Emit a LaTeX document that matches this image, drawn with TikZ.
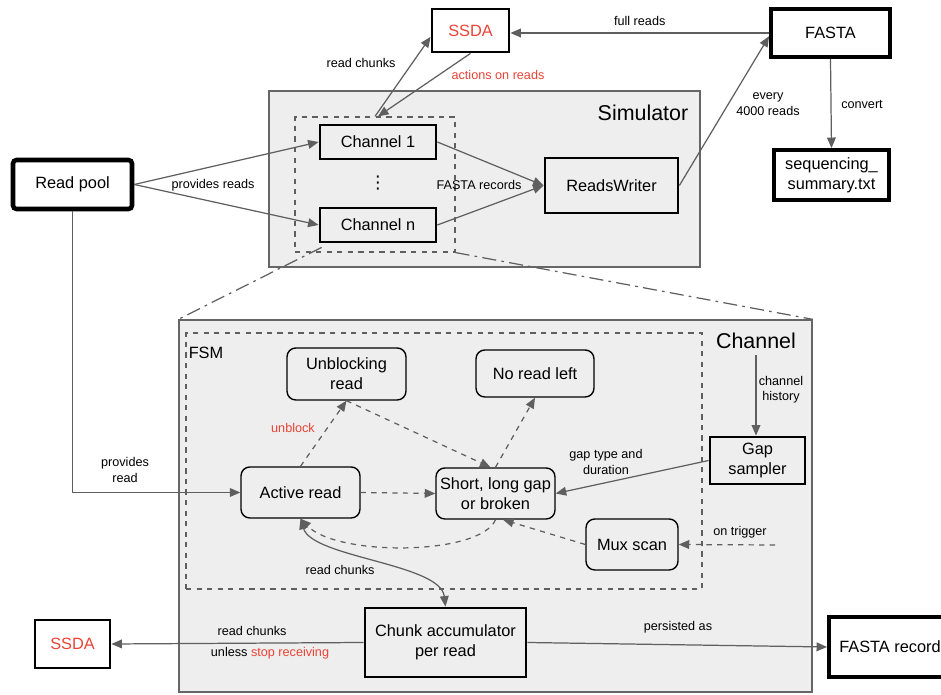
\documentclass[tikz,border=0pt]{standalone}
\usepackage{fontspec}
\setmainfont{Liberation Sans}
\newfontfamily\symfont{DejaVu Sans}
\usetikzlibrary{arrows.meta,calc,positioning}
\definecolor{linegray}{RGB}{95,95,95}
\definecolor{boxgray}{RGB}{238,238,238}
\definecolor{ssdared}{RGB}{234,67,53}

\begin{document}
\begin{tikzpicture}[x=0.02cm,y=-0.02cm,>={Triangle[length=6pt,width=5pt]},
  font=\fontsize{7.2}{8.8}\selectfont,
  blk/.style={draw,line width=1.6pt,align=center,inner sep=0pt,font=\fontsize{9.3}{11.2}\selectfont},
  state/.style={draw,line width=0.8pt,rounded corners=5pt,align=center,inner sep=0pt,font=\fontsize{9.3}{11.2}\selectfont},
  group/.style={draw=gray!80!black,fill=boxgray,line width=0.8pt,inner sep=0pt},
  dgroup/.style={draw=linegray,dashed,line width=0.7pt,inner sep=0pt},
  conn/.style={draw=linegray,line width=0.7pt,->},
  lbl/.style={align=center,inner sep=1pt}]
\useasboundingbox (0,0) rectangle (941,695);
% simulator and channel frames
\node[group,minimum width=8.62cm,minimum height=3.52cm] (sim) at (484.5,179) {};
\node[group,minimum width=12.66cm,minimum height=7.44cm] (chbox) at (495.5,506) {};
\node[dgroup,minimum width=3.2cm,minimum height=2.7cm] (chgroup) at (375,184.5) {};
\node[dgroup,minimum width=10.32cm,minimum height=5.12cm] (fsm) at (444,461) {};
\node[font=\fontsize{12.2}{14}\selectfont] (simtitle) at (643,113) {Simulator};
\node[font=\fontsize{12.2}{14}\selectfont] (chtitle) at (756,341) {Channel};
\node[font=\fontsize{9.3}{11}\selectfont] (fsmtitle) at (206,353) {FSM};
% outside blocks
\node[blk,text=ssdared,minimum width=1.54cm,minimum height=0.86cm] (ssda) at (470.5,30.5) {SSDA};
\node[blk,line width=2.2pt,minimum width=2.38cm,minimum height=0.96cm] (fasta) at (830.5,33) {FASTA};
\node[blk,line width=2.2pt,minimum width=2.3cm,minimum height=1.0cm] (summary) at (831.5,175) {sequencing\_\\summary.txt};
\node[blk,line width=2.6pt,rounded corners=2pt,minimum width=2.38cm,minimum height=0.98cm] (pool) at (72.5,184.5) {Read pool};
\node[blk,text=ssdared,minimum width=1.5cm,minimum height=0.96cm] (ssdab) at (72.5,644) {SSDA};
\node[blk,line width=2.2pt,minimum width=2.44cm,minimum height=1.2cm] (record) at (890,647) {FASTA record};
% simulator
\node[blk,minimum width=2.32cm,minimum height=0.68cm] (ch1) at (378,142) {Channel 1};
\node[blk,minimum width=2.32cm,minimum height=0.68cm] (chn) at (378,225) {Channel n};
\node[inner sep=0pt,font=\symfont\fontsize{10}{12}\selectfont] (dots) at (378,183) {⋮};
\node[blk,minimum width=2.66cm,minimum height=1.1cm] (rw) at (611.5,185.5) {ReadsWriter};
% channel
\node[state,minimum width=2.38cm,minimum height=1.04cm] (unblk) at (346.5,374) {Unblocking\\read};
\node[state,minimum width=2.36cm,minimum height=0.94cm] (noread) at (535,373.5) {No read left};
\node[state,minimum width=2.38cm,minimum height=1.02cm] (active) at (300.5,492.5) {Active read};
\node[state,minimum width=2.38cm,minimum height=1.02cm] (gap) at (495.5,493.5) {Short, long gap\\or broken};
\node[state,minimum width=1.84cm,minimum height=1.02cm] (mux) at (632,544.5) {Mux scan};
\node[blk,minimum width=1.9cm,minimum height=0.94cm] (sampler) at (757.5,460.5) {Gap\\sampler};
\node[blk,minimum width=3.22cm,minimum height=1.38cm] (acc) at (445.5,642.5) {Chunk accumulator\\per read};
\coordinate (trig) at (775,545);
% zoom lines
\draw[draw=linegray,line width=0.7pt,dash pattern=on 8pt off 3pt on 1.5pt off 3pt] ($(chn.south west)+(3,4)$) -- (chbox.north west);
\draw[draw=linegray,line width=0.7pt,dash pattern=on 8pt off 3pt on 1.5pt off 3pt] (chgroup.south east) -- (chbox.north east);
% top connectors
\draw[conn] (fasta.west) -- (fasta.west -| ssda.east) node[midway,above=3pt,lbl] {full reads};
\draw[conn] (chgroup.north) -- (ssda.189);
\draw[conn] (ssda.south) -- ($(chgroup.north)+(3,0)$);
\node[lbl] at (361,63) {read chunks};
\node[lbl,text=ssdared] at (498,75) {actions on reads};
\draw[conn] (pool.east) -- (ch1.west);
\draw[conn] (pool.east) -- (chn.west);
\node[lbl] at (213,185) {provides reads};
\draw[conn] (ch1.east) -- (rw.west);
\draw[conn] (chn.east) -- (rw.west);
\node[lbl] at (479,185) {FASTA records};
\draw[conn] (rw.east) -- (fasta.183);
\node[lbl] at (768,104) {every\\4000 reads};
\draw[conn] (fasta.south) -- (summary.north);
\node[lbl] at (862,104) {convert};
% channel connectors
\draw[conn] (pool.south) |- (active.west);
\node[lbl] at (125,470) {provides\\read};
\draw[conn,dashed] (active.north) -- (unblk.south);
\node[lbl,text=ssdared] at (293,428) {unblock};
\draw[conn,dashed] (unblk.south) -- ($(gap.north)+(-5,0)$);
\draw[conn,dashed] (gap.north) -- (noread.south);
\draw[conn,dashed] (active.east) -- (gap.west);
\draw[conn] (sampler.west) -- (gap.east);
\node[lbl] at (606,462) {gap type and\\duration};
\draw[conn,dashed] (mux.west) -- (gap.-74);
\draw[conn,dashed] (gap.south) .. controls +(-15,36) and +(37,38) .. (active.south);
\draw[conn,dashed] (trig) -- (mux.east);
\node[lbl] at (740,532) {on trigger};
\draw[conn] (chtitle.south) -- (chtitle.south |- sampler.north);
\node[lbl] at (781,390) {channel\\history};
\draw[conn,<->] (active.south) .. controls +(12,39) and +(-5,-43) .. (acc.north);
\node[lbl] at (340,570) {read chunks};
\draw[conn] (acc.west) -- (ssdab.east);
\node[lbl] at (252,631) {read chunks};
\node[lbl] at (270,653) {unless \textcolor{ssdared}{stop receiving}};
\draw[conn] (acc.east) -- (record.west);
\node[lbl] at (678,627) {persisted as};
\end{tikzpicture}
\end{document}
